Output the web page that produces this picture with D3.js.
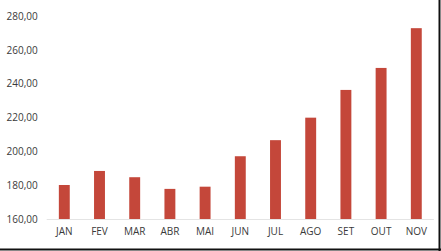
<!DOCTYPE html>
<html>
<head>
<meta charset="utf-8">
<script src="https://cdn.jsdelivr.net/npm/d3@7"></script>
<style>
  body { margin: 0; background: #fff; }
  svg { display: block; }
  .tick text { font-family: "Open Sans", sans-serif; font-size: 10px; fill: #3a3a3a; }
</style>
</head>
<body>
<svg width="441" height="251"></svg>
<script>
const months = ["JAN", "FEV", "MAR", "ABR", "MAI", "JUN", "JUL", "AGO", "SET", "OUT", "NOV"]
const values = [180.1, 188.4, 184.7, 177.8, 179.1, 197.1, 206.6, 219.9, 236.3, 249.3, 272.8]
const yTicks = [160, 180, 200, 220, 240, 260, 280]

function drawChart() {
    const svg = d3.select("svg")
    const width = 441
    const height = 251
    const left = 46.7, right = 433.9, top = 16, bottom = 219

    svg.append("rect")
        .attr("width", width)
        .attr("height", height)
        .attr("fill", "white")

    const x = d3.scaleBand().domain(months).range([left, right]).padding(0)
    const y = d3.scaleLinear().domain([160, 280]).range([bottom, top])
    const barWidth = x.bandwidth() * 0.31

    const fmt = d => d3.format(".2f")(d).replace(".", ",")

    const yAxis = svg.append("g")
        .attr("transform", `translate(${left - 9}, 0)`)
        .call(d3.axisLeft(y).tickValues(yTicks).tickFormat(fmt).tickSize(0).tickPadding(0))
    yAxis.select(".domain").remove()

    svg.selectAll("rect.bar")
        .data(values)
        .enter()
        .append("rect")
        .attr("class", "bar")
        .attr("x", (d, i) => x(months[i]) + (x.bandwidth() - barWidth) / 2)
        .attr("width", barWidth)
        .attr("y", d => y(d))
        .attr("height", d => y(160) - y(d))
        .attr("fill", "#c4473a")

    svg.append("line")
        .attr("x1", left).attr("x2", right)
        .attr("y1", bottom + 0.5).attr("y2", bottom + 0.5)
        .attr("stroke", "#e4e4e4")

    const xAxis = svg.append("g")
        .attr("transform", `translate(0, ${bottom + 9})`)
        .call(d3.axisBottom(x).tickSize(0).tickPadding(0))
    xAxis.select(".domain").remove()

    // frame edges
    svg.append("line")
        .attr("x1", 0).attr("x2", width)
        .attr("y1", 249.5).attr("y2", 249.5)
        .attr("stroke", "#111").attr("stroke-width", 2)
    svg.append("line")
        .attr("x1", 439.5).attr("x2", 439.5)
        .attr("y1", 0).attr("y2", height)
        .attr("stroke", "#111").attr("stroke-width", 2)
}
drawChart()
</script>
</body>
</html>
